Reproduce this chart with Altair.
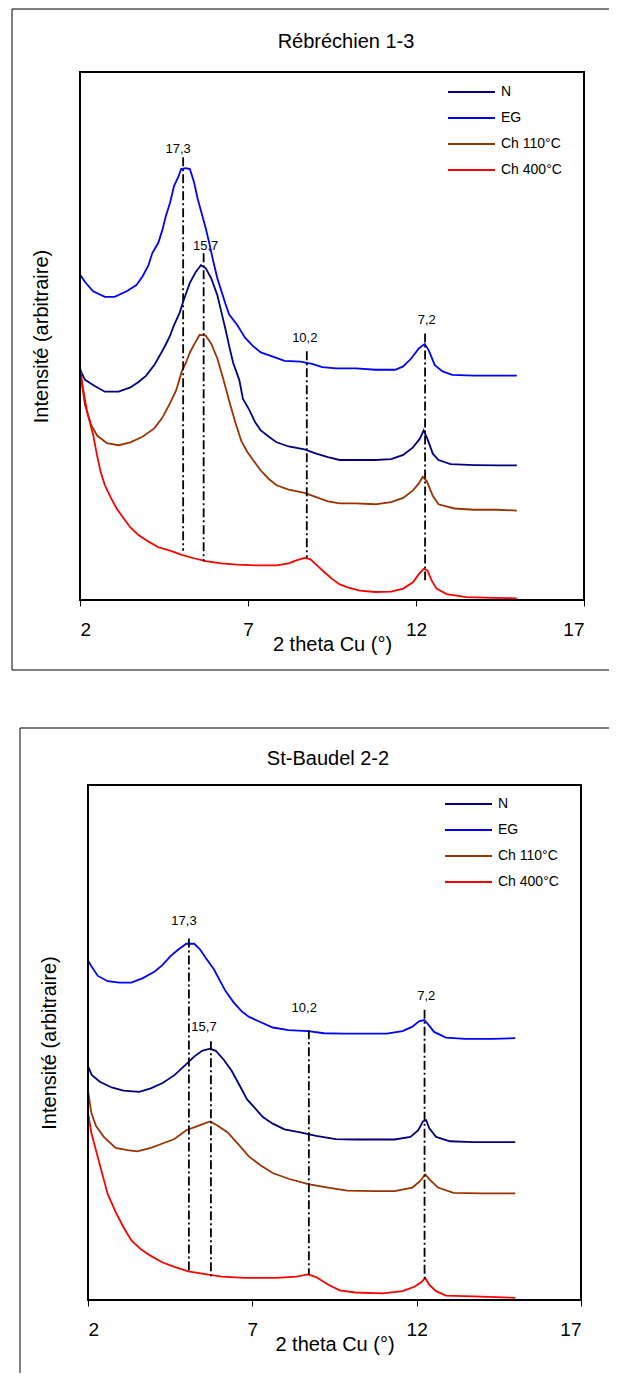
import altair as alt
import pandas as pd

FONT = "Liberation Sans"
SERIES = ["N", "EG", "Ch 110°C", "Ch 400°C"]
COLORS = ["#000080", "#0000FF", "#993300", "#FF0000"]
PEAK_LABELS = ["17,3", "15,7", "10,2", "7,2"]
X_TICKS = [2, 7, 12, 17]
X_TITLE = "2 theta Cu (°)"
Y_TITLE = "Intensité (arbitraire)"

# ---------------- Panel 1 : Rébréchien 1-3 ----------------
P1_TITLE = "Rébréchien 1-3"
P1_N_X = [2.00, 2.15, 2.45, 2.74, 3.15, 3.50, 3.74, 3.97, 4.21, 4.39, 4.56, 4.68, 4.80, 4.97, 5.09, 5.27, 5.44,
          5.60, 5.74, 5.91, 6.09, 6.21, 6.33, 6.44, 6.56, 6.74, 6.85, 7.03, 7.21, 7.38, 7.62, 7.85, 8.21, 8.68,
          9.03, 9.38, 9.73, 10.21, 10.79, 11.26, 11.62, 11.91, 12.11, 12.23, 12.34, 12.50, 12.67, 13.03, 13.73,
          14.44, 15.00]
P1_N_Y = [547, 522, 507, 494, 494, 504, 517, 532, 557, 582, 607, 627, 652, 682, 712, 752, 777, 794, 787, 762,
          722, 682, 642, 602, 562, 522, 477, 452, 422, 402, 387, 374, 364, 357, 347, 339, 332, 332, 332, 334,
          344, 362, 382, 402, 382, 347, 332, 322, 320, 319, 319]
P1_EG_X = [2.00, 2.15, 2.39, 2.74, 3.03, 3.39, 3.68, 3.86, 4.03, 4.15, 4.33, 4.45, 4.56, 4.68, 4.80, 4.92, 5.01,
           5.15, 5.27, 5.39, 5.50, 5.62, 5.74, 5.86, 5.97, 6.09, 6.21, 6.33, 6.44, 6.68, 6.91, 7.15, 7.38, 7.74,
           8.09, 8.56, 8.91, 9.21, 9.62, 10.21, 10.79, 11.38, 11.62, 11.85, 12.09, 12.26, 12.38, 12.56, 12.79,
           13.08, 13.73, 14.32, 15.00]
P1_EG_Y = [772, 754, 732, 719, 719, 732, 747, 767, 792, 822, 847, 877, 912, 942, 982, 1002, 1022, 1024, 1022,
           992, 952, 917, 882, 842, 802, 762, 732, 702, 677, 652, 622, 602, 587, 577, 567, 565, 560, 552, 549,
           549, 546, 546, 554, 572, 597, 607, 592, 557, 542, 534, 532, 532, 532]
P1_110_X = [2.00, 2.15, 2.33, 2.51, 2.80, 3.15, 3.50, 3.86, 4.21, 4.45, 4.68, 4.86, 5.03, 5.15, 5.27, 5.44, 5.56,
            5.74, 5.91, 6.09, 6.27, 6.44, 6.62, 6.80, 6.97, 7.15, 7.38, 7.62, 7.85, 8.21, 8.68, 9.03, 9.38, 9.73,
            10.21, 10.79, 11.26, 11.62, 11.91, 12.09, 12.20, 12.32, 12.50, 12.67, 13.14, 13.73, 14.44, 15.00]
P1_110_Y = [542, 462, 415, 390, 372, 367, 374, 387, 407, 432, 467, 497, 542, 562, 587, 612, 629, 627, 607, 572,
            522, 472, 422, 377, 352, 332, 307, 287, 272, 262, 254, 244, 234, 229, 229, 227, 232, 242, 260, 277,
            292, 282, 247, 227, 217, 214, 214, 212]
P1_400_X = [2.00, 2.09, 2.21, 2.39, 2.51, 2.62, 2.74, 2.92, 3.09, 3.27, 3.50, 3.74, 4.03, 4.33, 4.68, 5.03, 5.39,
            5.74, 6.21, 6.68, 7.27, 7.85, 8.21, 8.44, 8.68, 8.85, 9.03, 9.26, 9.50, 9.73, 9.97, 10.32, 10.79,
            11.26, 11.62, 11.91, 12.09, 12.23, 12.34, 12.46, 12.61, 12.91, 13.50, 14.32, 15.00]
P1_400_Y = [554, 502, 447, 392, 342, 302, 272, 242, 217, 197, 172, 154, 139, 125, 117, 107, 99, 92, 87, 84,
            82, 82, 87, 94, 100, 97, 84, 67, 50, 37, 30, 22, 19, 20, 27, 42, 62, 74, 70, 47, 27, 14, 7, 5, 4]
P1_Y_MAX = 1252
P1_PEAK_X = [5.07, 5.68, 8.75, 12.27]
P1_PEAK_TOP = [1050, 822, 590, 632]
P1_PEAK_BOTTOM = [117, 92, 100, 47]
P1_LABEL_X = [4.92, 5.74, 8.69, 12.32]
P1_LABEL_Y = [1070, 840, 622, 664]

# ---------------- Panel 2 : St-Baudel 2-2 ----------------
P2_TITLE = "St-Baudel 2-2"
P2_N_X = [2.00, 2.12, 2.36, 2.72, 3.08, 3.56, 3.91, 4.27, 4.63, 4.99, 5.23, 5.47, 5.71, 5.89, 6.13, 6.37, 6.61,
          6.84, 7.08, 7.32, 7.62, 7.98, 8.46, 8.94, 9.54, 10.13, 10.73, 11.33, 11.81, 12.05, 12.19, 12.29,
          12.38, 12.59, 13.01, 13.72, 15.00]
P2_N_Y = [530, 510, 495, 482, 475, 472, 480, 492, 510, 535, 552, 565, 570, 565, 545, 520, 487, 455, 435, 415,
          400, 387, 380, 372, 365, 364, 364, 364, 370, 385, 405, 408, 390, 370, 360, 358, 358]
P2_EG_X = [2.00, 2.12, 2.30, 2.60, 2.96, 3.32, 3.67, 4.03, 4.27, 4.51, 4.75, 4.99, 5.23, 5.41, 5.59, 5.83, 6.01,
           6.19, 6.43, 6.67, 6.90, 7.26, 7.62, 8.10, 8.70, 9.18, 9.78, 10.37, 11.09, 11.57, 11.87, 12.07, 12.23,
           12.35, 12.53, 12.89, 13.48, 14.32, 15.00]
P2_EG_Y = [770, 755, 735, 723, 720, 720, 730, 745, 760, 780, 795, 808, 808, 795, 775, 750, 725, 700, 675, 655,
           642, 630, 618, 612, 610, 605, 604, 604, 604, 610, 620, 632, 635, 625, 608, 595, 592, 592, 594]
P2_110_X = [2.00, 2.10, 2.24, 2.48, 2.84, 3.20, 3.50, 3.91, 4.27, 4.63, 4.99, 5.35, 5.71, 5.95, 6.25, 6.55, 6.90,
            7.26, 7.62, 8.10, 8.70, 9.30, 9.89, 10.73, 11.33, 11.87, 12.11, 12.26, 12.41, 12.65, 13.12, 13.96,
            15.00]
P2_110_Y = [475, 425, 395, 370, 345, 340, 337, 345, 355, 365, 385, 395, 405, 395, 380, 355, 325, 305, 288, 275,
            263, 255, 248, 247, 247, 255, 270, 285, 272, 255, 243, 242, 242]
P2_400_X = [2.00, 2.10, 2.24, 2.42, 2.60, 2.84, 3.08, 3.32, 3.61, 3.91, 4.27, 4.63, 5.05, 5.47, 6.07, 6.78, 7.74,
            8.34, 8.70, 8.94, 9.30, 9.66, 10.13, 10.97, 11.57, 11.93, 12.14, 12.26, 12.38, 12.59, 12.89, 13.72,
            15.00]
P2_400_Y = [425, 380, 340, 290, 240, 200, 165, 135, 115, 100, 85, 75, 65, 60, 53, 50, 50, 53, 58, 52, 35, 22,
            17, 15, 20, 30, 40, 50, 35, 20, 10, 8, 5]
P2_Y_MAX = 1168
P2_PEAK_X = [5.07, 5.74, 8.72, 12.24]
P2_PEAK_TOP = [820, 587, 612, 658]
P2_PEAK_BOTTOM = [62, 52, 58, 45]
P2_LABEL_X = [4.92, 5.53, 8.58, 12.29]
P2_LABEL_Y = [860, 620, 663, 690]


def curves_frame(pairs):
    rows = []
    for name, (xs, ys) in zip(SERIES, pairs):
        for xv, yv in zip(xs, ys):
            rows.append({"serie": name, "x": xv, "y": yv})
    return pd.DataFrame(rows)


def panel(title, pairs, ymax, peak_x, peak_top, peak_bottom, label_x, label_y, geo):
    w, h, x0 = geo["w"], geo["h"], geo["x0"]
    xscale = alt.Scale(domain=[2, 17], nice=False, zero=False, range=[x0, w])
    yscale = alt.Scale(domain=[0, ymax], nice=False, zero=True)
    xaxis = alt.Axis(values=X_TICKS, title=X_TITLE, domain=False, grid=False, ticks=True,
                     tickSize=6, tickWidth=1, tickColor="black", labelFontSize=19,
                     labelColor="black", labelPadding=14, titleFontSize=20,
                     titleFontWeight="normal", titleColor="black", titlePadding=-5, format="d")
    yaxis = alt.Axis(title=Y_TITLE, labels=False, ticks=False, domain=False, grid=False,
                     titleFontSize=20, titleFontWeight="normal", titleColor="black",
                     titlePadding=geo["ytp"])

    lines = alt.Chart(curves_frame(pairs)).mark_line(strokeWidth=1.8).encode(
        x=alt.X("x:Q", scale=xscale, axis=xaxis),
        y=alt.Y("y:Q", scale=yscale, axis=yaxis),
        color=alt.Color("serie:N", sort=SERIES,
                        scale=alt.Scale(domain=SERIES, range=COLORS),
                        legend=alt.Legend(title=None, orient="none", legendX=geo["lx"], legendY=geo["ly"],
                                          symbolType="stroke", symbolSize=2209, symbolStrokeWidth=2,
                                          clipHeight=16, rowPadding=10, labelFontSize=14,
                                          labelOffset=5, labelColor="black", padding=0)),
    )

    peaks_df = pd.DataFrame({"label": PEAK_LABELS, "x": peak_x, "top": peak_top, "bottom": peak_bottom,
                             "lx": label_x, "ly": label_y})
    rules = alt.Chart(peaks_df).mark_rule(color="black", strokeWidth=1.8, strokeDash=[9, 3, 2, 3]).encode(
        x=alt.X("x:Q", scale=xscale), y=alt.Y("top:Q", scale=yscale), y2="bottom:Q")
    texts = alt.Chart(peaks_df).mark_text(fontSize=13, color="black", align="center",
                                          baseline="middle").encode(
        x=alt.X("lx:Q", scale=xscale), y=alt.Y("ly:Q", scale=yscale), text="label:N")

    one = pd.DataFrame({"k": [0]})
    deco = []
    # plot frame
    frame = dict(color="black", strokeWidth=2, strokeCap="square")
    deco.append(alt.Chart(one).mark_rule(**frame).encode(x=alt.value(x0), x2=alt.value(w), y=alt.value(0)))
    deco.append(alt.Chart(one).mark_rule(**frame).encode(x=alt.value(x0), x2=alt.value(w), y=alt.value(h)))
    deco.append(alt.Chart(one).mark_rule(**frame).encode(x=alt.value(x0), y=alt.value(0), y2=alt.value(h)))
    deco.append(alt.Chart(one).mark_rule(**frame).encode(x=alt.value(w), y=alt.value(0), y2=alt.value(h)))
    # outer frame of the panel
    deco.append(alt.Chart(one).mark_rule(color="black", strokeWidth=1).encode(
        x=alt.value(geo["bl"]), x2=alt.value(geo["br"]), y=alt.value(geo["bt"])))
    deco.append(alt.Chart(one).mark_rule(color="black", strokeWidth=1).encode(
        x=alt.value(geo["bl"]), y=alt.value(geo["bt"]), y2=alt.value(geo["bb"])))
    if geo.get("bottom_line"):
        deco.append(alt.Chart(one).mark_rule(color="black", strokeWidth=1).encode(
            x=alt.value(geo["bl"]), x2=alt.value(geo["br"]), y=alt.value(geo["bb"])))
    # panel title
    deco.append(alt.Chart(one).mark_text(text=title, fontSize=20, color="black", align="center",
                                         baseline="middle").encode(
        x=alt.value(geo["tx"]), y=alt.value(geo["ty"])))

    return alt.layer(lines, rules, texts, *deco).properties(width=w, height=h)


top = panel(P1_TITLE,
            [(P1_N_X, P1_N_Y), (P1_EG_X, P1_EG_Y), (P1_110_X, P1_110_Y), (P1_400_X, P1_400_Y)],
            P1_Y_MAX, P1_PEAK_X, P1_PEAK_TOP, P1_PEAK_BOTTOM, P1_LABEL_X, P1_LABEL_Y,
            dict(w=504, h=528, x0=0, lx=367, ly=12, bl=-68, br=529, bt=-63, bb=598, bottom_line=True,
                 tx=266, ty=-30, ytp=29))
bottom = panel(P2_TITLE,
               [(P2_N_X, P2_N_Y), (P2_EG_X, P2_EG_Y), (P2_110_X, P2_110_Y), (P2_400_X, P2_400_Y)],
               P2_Y_MAX, P2_PEAK_X, P2_PEAK_TOP, P2_PEAK_BOTTOM, P2_LABEL_X, P2_LABEL_Y,
               dict(w=501, h=515, x0=8, lx=364, ly=11, bl=-60, br=529, bt=-57, bb=588, bottom_line=False,
                    tx=248, ty=-26, ytp=21))

chart = alt.vconcat(top, bottom, spacing=56).resolve_scale(
    color="independent", x="independent", y="independent"
).properties(
    padding={"left": 3, "top": 0, "right": 0, "bottom": 0}
).configure(font=FONT).configure_view(strokeWidth=0)

chart.save("out.html", embed_options={"renderer": "svg", "actions": False})
